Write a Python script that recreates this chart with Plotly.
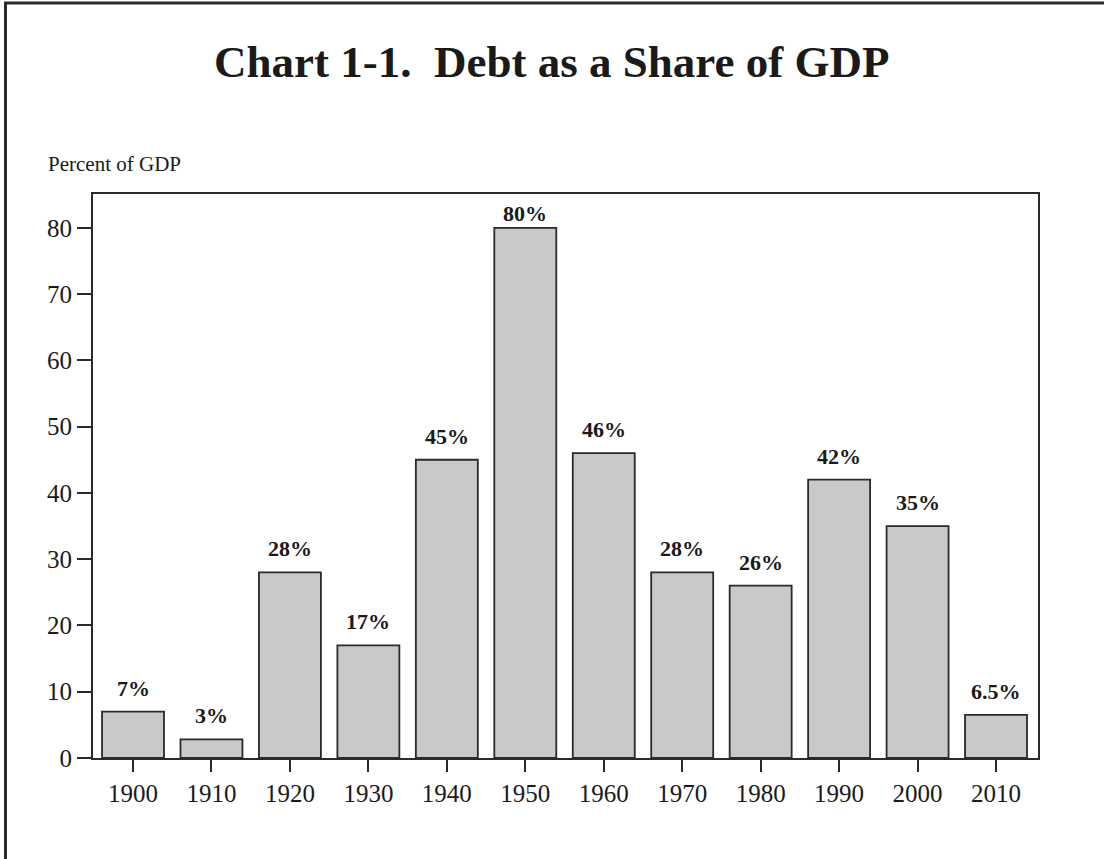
import plotly.graph_objects as go

years = ["1900", "1910", "1920", "1930", "1940", "1950", "1960", "1970", "1980", "1990", "2000", "2010"]
debt_pct = [7, 2.8, 28, 17, 45, 80, 46, 28, 26, 42, 35, 6.5]
bar_labels = ["7%", "3%", "28%", "17%", "45%", "80%", "46%", "28%", "26%", "42%", "35%", "6.5%"]
y_ticks = [0, 10, 20, 30, 40, 50, 60, 70, 80]

W, H = 1104, 859
L, R, T, B = 93, 66, 194, 101
pw, ph = W - L - R, H - T - B
Y_MAX = 85.1

def px(x):
    return (x - L) / pw

def py(y):
    return (H - B - y) / ph

serif = "Liberation Serif, Times New Roman, serif"

fig = go.Figure()
fig.add_trace(go.Bar(
    x=list(range(len(years))), y=debt_pct,
    marker=dict(color="#c8c9cb", line=dict(color="#2a2a2a", width=1.8)),
    width=0.79,
    hoverinfo="skip",
))

for i, (v, t) in enumerate(zip(debt_pct, bar_labels)):
    # labels near the top of the frame sit tighter to their bar
    shift = 9 if v < Y_MAX - 8 else 0
    fig.add_annotation(x=i, y=v, text="<b>" + t + "</b>", showarrow=False, yanchor="bottom",
                       yshift=shift, font=dict(family=serif, size=22, color="#1a1a1a"))

fig.add_annotation(xref="paper", yref="paper", x=px(551), y=py(62), text="<b>Chart 1-1.  Debt as a Share of GDP</b>",
                   showarrow=False, xanchor="center", yanchor="middle",
                   font=dict(family=serif, size=45, color="#1a1a1a"))
fig.add_annotation(xref="paper", yref="paper", x=px(46), y=py(164), text="Percent of GDP",
                   showarrow=False, xanchor="left", yanchor="middle",
                   font=dict(family=serif, size=21, color="#1a1a1a"))

# outer frame (top and left edges)
fig.add_shape(type="line", xref="paper", yref="paper", x0=px(4), x1=px(1104), y0=py(3), y1=py(3),
              line=dict(color="#2a2a2a", width=3))
fig.add_shape(type="line", xref="paper", yref="paper", x0=px(5.5), x1=px(5.5), y0=py(2), y1=py(859),
              line=dict(color="#2a2a2a", width=3))

fig.update_layout(
    width=W, height=H,
    margin=dict(l=L, r=R, t=T, b=B),
    paper_bgcolor="white", plot_bgcolor="white",
    showlegend=False,
    font=dict(family=serif, color="#1a1a1a"),
)
fig.update_xaxes(
    range=[-0.51, 11.535], tickmode="array", tickvals=list(range(len(years))), ticktext=years,
    ticks="outside", ticklen=12, tickwidth=1.5, tickcolor="#2a2a2a",
    showline=True, linecolor="#2a2a2a", linewidth=1.8, mirror=True,
    showgrid=False, zeroline=False, tickfont=dict(family=serif, size=25, color="#1a1a1a"),
)
fig.update_yaxes(
    range=[0, Y_MAX], tickmode="array", tickvals=y_ticks,
    ticks="outside", ticklen=14, tickwidth=1.5, tickcolor="#2a2a2a",
    showline=True, linecolor="#2a2a2a", linewidth=1.8, mirror=True,
    showgrid=False, zeroline=False, tickfont=dict(family=serif, size=25, color="#1a1a1a"),
)

fig.write_html("out.html", config={"displayModeBar": False},
               post_script="document.body.style.margin='0';document.body.style.overflow='hidden';")
